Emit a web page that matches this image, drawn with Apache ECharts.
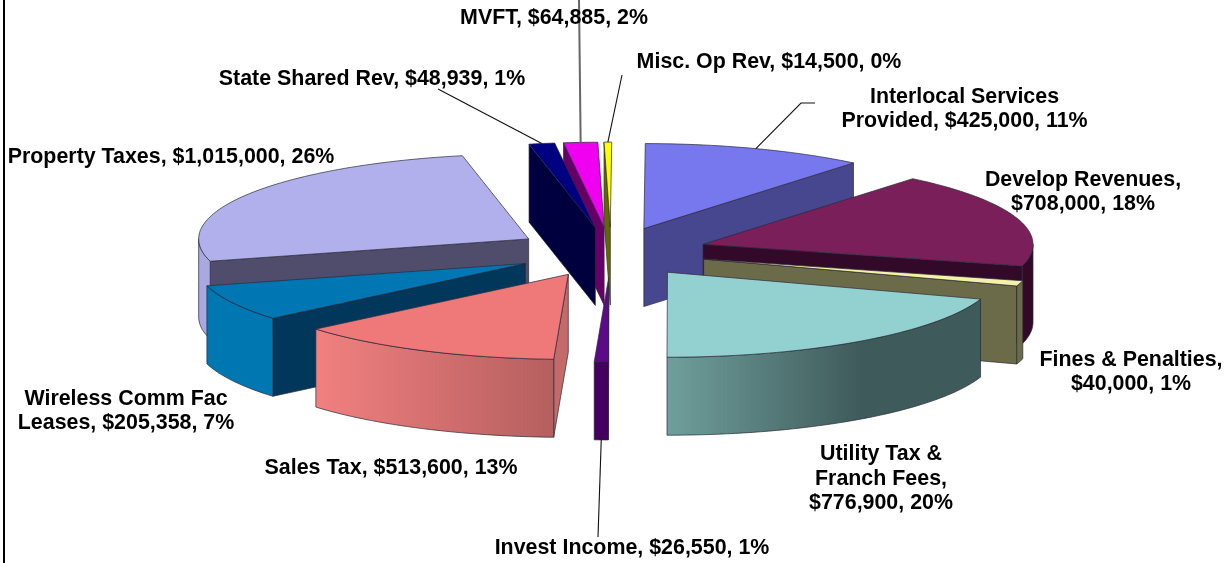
<!DOCTYPE html>
<html>
<head>
<meta charset="utf-8">
<style>html,body{margin:0;padding:0;background:#fff}#c{width:1228px;height:563px}</style>
<script src="https://cdn.jsdelivr.net/npm/echarts@6/dist/echarts.min.js"></script>
</head>
<body>
<div id="c"></div>
<script>
// ---- data ----
const categories = ['Interlocal Services Provided','Develop Revenues','Fines & Penalties','Utility Tax & Franch Fees','Invest Income','Sales Tax','Wireless Comm Fac Leases','Property Taxes','State Shared Rev','MVFT','Misc. Op Rev'];
// drawn amounts; the wireless wedge is drawn at its labelled 7% share
const values = [425000,708000,40000,776900,26550,513600,270000,1015000,48939,64885,14500];
const labelTexts = [
 'Interlocal Services\nProvided, $425,000, 11%',
 'Develop Revenues,\n$708,000, 18%',
 'Fines & Penalties,\n$40,000, 1%',
 'Utility Tax &\nFranch Fees,\n$776,900, 20%',
 'Invest Income, $26,550, 1%',
 'Sales Tax, $513,600, 13%',
 'Wireless Comm Fac\nLeases, $205,358, 7%',
 'Property Taxes, $1,015,000, 26%',
 'State Shared Rev, $48,939, 1%',
 'MVFT, $64,885, 2%',
 'Misc. Op Rev, $14,500, 0%'
];
// ---- styles and layout ----
const topColors  = ['#7777ee','#7a1f5a','#f5f1a6','#93d1d0','#5c0a88','#ef7878','#0077b3','#b1b0ec','#000080','#f000f0','#ffff00'];
const sideColors = ['#47478f','#33092a','#6b6b4a','#3f5a5a','#44005f','#c46a6a','#00375a','#4f4d6b','#00003f','#660066','#666600'];
const wallFrom   = ['#47478f','#33092a','#6b6b4a','#6f9f9c','#44005f','#f28080','#0077b0','#a9a8e0','#00003f','#660066','#666600'];
const wallTo     = ['#47478f','#33092a','#6b6b4a','#3f5a5a','#44005f','#b55f5f','#0077b0','#a9a8e0','#00003f','#660066','#666600'];
const wallStop   = [1,1,1,0.62,1,1,1,1,1,1,1];
const drawOrder  = [4,9,8,10,0,1,7,2,6,3,5];
const labelPos = [[964.5,109],[1083,192],[1131,372],[881,479],[632,548],[391,468],[126,411],[171,157],[372,79],[554,18],[769,62]];
// leader line start points (label side); the far end is computed on the slice's arc
const leaderStart = {0:[[815,103],[801,103]],4:[[598,537]],8:[[438,89]],9:[[579,0]],10:[[622,75]]};
const cx=611, cy=252, rx=330, ry=85, depth=78, explode=0.293, rotation=0.25, fontSize=21.4;

const total = values.reduce((a,b)=>a+b,0);
const starts=[]; let acc=rotation;
values.forEach(v=>{starts.push(acc); acc+=v/total*360;});
const rad=d=>d*Math.PI/180;

function renderSlice(params, api){
  const i = params.dataIndex;
  const a0 = starts[i], a1 = a0 + api.value(0)/total*360, mid=(a0+a1)/2;
  const ax = cx + explode*rx*Math.sin(rad(mid));
  const ay = cy - explode*ry*Math.cos(rad(mid));
  const pt = a => [ax+rx*Math.sin(rad(a)), ay-ry*Math.cos(rad(a))];
  const down = p => [p[0], p[1]+depth];
  const arc = (s,e) => { const n=Math.max(2,Math.ceil(Math.abs(e-s)/1.5)); const r=[]; for(let k=0;k<=n;k++) r.push(pt(s+(e-s)*k/n)); return r; };
  const A=[ax,ay], z=drawOrder.indexOf(i)*10+1;
  const stroke={stroke:'#2a2a3a',lineWidth:0.7,lineJoin:'round'};
  const kids=[];
  const poly=(points,fill,zz)=>kids.push({type:'polygon',z2:z+zz,shape:{points},style:Object.assign({fill},stroke)});
  // radial walls that face the viewer
  if(a0>180 && a0<360){ const p=pt(a0); poly([A,p,down(p),down(A)],sideColors[i],0); }
  if(a1>0 && a1<180){ const p=pt(a1); poly([A,p,down(p),down(A)],sideColors[i],0); }
  // outer rim
  const s=Math.max(a0,90), e=Math.min(a1,270);
  if(e>s){
    const t=arc(s,e);
    const xs=t.map(p=>p[0]), x0=Math.min(...xs), x1=Math.max(...xs);
    const fill=new echarts.graphic.LinearGradient(x0,0,x1,0,[{offset:0,color:wallFrom[i]},{offset:wallStop[i],color:wallTo[i]},{offset:1,color:wallTo[i]}],true);
    poly(t.concat(t.slice().reverse().map(down)),fill,1);
  }
  // top face
  poly([A].concat(arc(a0,a1)),topColors[i],2);
  // leader line
  if(leaderStart[i]){
    let m=pt(mid); if(mid>90&&mid<270) m=down(m);
    kids.push({type:'polyline',z2:900,shape:{points:leaderStart[i].concat([m])},
      style:{fill:null,stroke:i===9?'#666':'#111',lineWidth:i===9?2:1.1}});
  }
  // label
  kids.push({type:'text',z2:1000,style:{text:labelTexts[i],x:labelPos[i][0],y:labelPos[i][1],
    align:'center',verticalAlign:'middle',textAlign:'center',textVerticalAlign:'middle',
    font:'bold '+fontSize+'px "Liberation Sans", Arial, sans-serif',lineHeight:24.5,fill:'#000'}});
  return {type:'group',children:kids};
}

const chart=echarts.init(document.getElementById('c'),null,{renderer:'canvas'});
chart.setOption({
  animation:false,
  backgroundColor:'#fff',
  graphic:[{type:'line',shape:{x1:4,y1:0,x2:4,y2:563},style:{stroke:'#000',lineWidth:2}}],
  series:[{type:'custom',coordinateSystem:'none',renderItem:renderSlice,
    data:values.map((v,i)=>({name:categories[i],value:[v]}))}]
});
</script>
</body>
</html>
